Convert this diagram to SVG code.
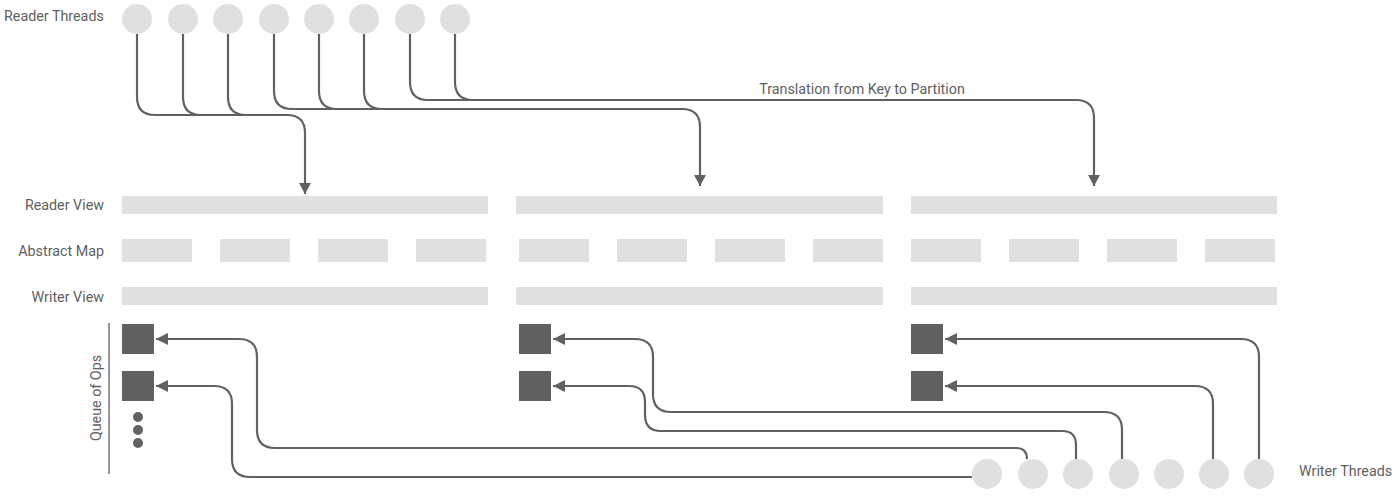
<svg xmlns="http://www.w3.org/2000/svg" width="1400" height="501" viewBox="0 0 1400 501">
<style>
.t{font-family:Roboto,"Liberation Sans",sans-serif;font-size:14.3px;fill:#616161}
.c{fill:#e0e0e0}
.b{fill:#e0e0e0}
.q{fill:#616161}
.l{fill:none;stroke:#616161;stroke-width:2.2}
</style>
<defs>
<marker id="ad" markerUnits="userSpaceOnUse" markerWidth="14" markerHeight="14" viewBox="0 0 14 14" refX="7" refY="12" orient="0">
<path d="M1,1 L13,1 L7,12 Z" fill="#616161"/>
</marker>
<marker id="al" markerUnits="userSpaceOnUse" markerWidth="14" markerHeight="14" viewBox="0 0 14 14" refX="1" refY="7" orient="0">
<path d="M1,7 L13,1 L13,13 Z" fill="#616161"/>
</marker>
</defs>
<rect width="1400" height="501" fill="#ffffff"/>
<g id="labels">
<text class="t" x="4" y="21">Reader Threads</text>
<text class="t" x="104" y="210" text-anchor="end">Reader View</text>
<text class="t" x="104" y="256" text-anchor="end">Abstract Map</text>
<text class="t" x="104" y="302" text-anchor="end">Writer View</text>
<text class="t" x="1299" y="476">Writer Threads</text>
<text class="t" x="862" y="94" text-anchor="middle">Translation from Key to Partition</text>
<text class="t" x="0" y="0" text-anchor="middle" transform="translate(101,398) rotate(-90)">Queue of Ops</text>
<line x1="109" y1="323" x2="109" y2="474" stroke="#757575" stroke-width="1.5"/>
</g>
<g id="reader-threads">
<circle class="c" cx="137" cy="19" r="15"/>
<circle class="c" cx="183" cy="19" r="15"/>
<circle class="c" cx="228" cy="19" r="15"/>
<circle class="c" cx="274" cy="19" r="15"/>
<circle class="c" cx="319" cy="19" r="15"/>
<circle class="c" cx="364" cy="19" r="15"/>
<circle class="c" cx="410" cy="19" r="15"/>
<circle class="c" cx="455" cy="19" r="15"/>
</g>
<g id="partition-1">
<rect class="b" x="122" y="196" width="366" height="18"/>
<rect class="b" x="122" y="239" width="70" height="23"/>
<rect class="b" x="220" y="239" width="70" height="23"/>
<rect class="b" x="318" y="239" width="70" height="23"/>
<rect class="b" x="416" y="239" width="70" height="23"/>
<rect class="b" x="122" y="287" width="366" height="18"/>
<rect class="q" x="122" y="324" width="32" height="30"/>
<rect class="q" x="122" y="371" width="32" height="30"/>
<circle class="q" cx="138" cy="417" r="5"/>
<circle class="q" cx="138" cy="430" r="5"/>
<circle class="q" cx="138" cy="443" r="5"/>
</g>
<g id="partition-2">
<rect class="b" x="516" y="196" width="367" height="18"/>
<rect class="b" x="519" y="239" width="70" height="23"/>
<rect class="b" x="617" y="239" width="70" height="23"/>
<rect class="b" x="715" y="239" width="70" height="23"/>
<rect class="b" x="813" y="239" width="70" height="23"/>
<rect class="b" x="516" y="287" width="367" height="18"/>
<rect class="q" x="519" y="324" width="32" height="30"/>
<rect class="q" x="519" y="371" width="32" height="30"/>
</g>
<g id="partition-3">
<rect class="b" x="911" y="196" width="366" height="18"/>
<rect class="b" x="911" y="239" width="70" height="23"/>
<rect class="b" x="1009" y="239" width="70" height="23"/>
<rect class="b" x="1107" y="239" width="70" height="23"/>
<rect class="b" x="1205" y="239" width="70" height="23"/>
<rect class="b" x="911" y="287" width="366" height="18"/>
<rect class="q" x="911" y="324" width="32" height="30"/>
<rect class="q" x="911" y="371" width="32" height="30"/>
</g>
<g id="writer-threads">
<circle class="c" cx="987" cy="474" r="15"/>
<circle class="c" cx="1033" cy="474" r="15"/>
<circle class="c" cx="1078" cy="474" r="15"/>
<circle class="c" cx="1124" cy="474" r="15"/>
<circle class="c" cx="1169" cy="474" r="15"/>
<circle class="c" cx="1214" cy="474" r="15"/>
<circle class="c" cx="1259" cy="474" r="15"/>
</g>
<g id="connectors">
<path class="l" d="M137,34 V97 Q137,115 155,115 H287 Q305,115 305,133 V194" marker-end="url(#ad)"/>
<path class="l" d="M183,34 V97 Q183,115 201,115"/>
<path class="l" d="M228,34 V97 Q228,115 246,115"/>
<path class="l" d="M274,34 V91 Q274,109 292,109 H682 Q700,109 700,127 V186" marker-end="url(#ad)"/>
<path class="l" d="M319,34 V91 Q319,109 337,109"/>
<path class="l" d="M364,34 V91 Q364,109 382,109"/>
<path class="l" d="M410,34 V82 Q410,100 428,100 H1076 Q1094,100 1094,118 V186" marker-end="url(#ad)"/>
<path class="l" d="M455,34 V82 Q455,100 473,100"/>
<path class="l" d="M1027,459 Q1027,448 1016,448 H275 Q257,448 257,430 V357 Q257,339 239,339 H156" marker-end="url(#al)"/>
<path class="l" d="M972,477 H250 Q232,477 232,459 V404 Q232,386 214,386 H156" marker-end="url(#al)"/>
<path class="l" d="M1122,459 V430 Q1122,412 1104,412 H671 Q653,412 653,394 V357 Q653,339 635,339 H553" marker-end="url(#al)"/>
<path class="l" d="M1076,459 V445 Q1076,431 1062,431 H661 Q645,431 645,415 V402 Q645,386 629,386 H553" marker-end="url(#al)"/>
<path class="l" d="M1259,459 V357 Q1259,339 1241,339 H945" marker-end="url(#al)"/>
<path class="l" d="M1213,459 V404 Q1213,386 1195,386 H945" marker-end="url(#al)"/>
</g>
</svg>
